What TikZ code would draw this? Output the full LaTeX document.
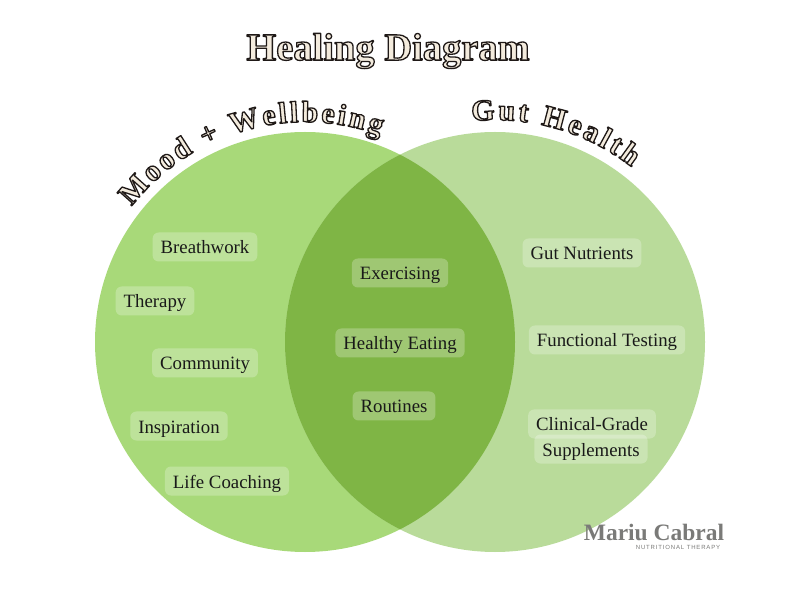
\documentclass[tikz,border=0pt]{standalone}
\usepackage{fontspec}
\usetikzlibrary{decorations.text}
\setmainfont{Liberation Serif}
\newfontfamily\logosans[LetterSpace=14]{Liberation Sans}
\definecolor{moodgreen}{HTML}{A8D979}
\definecolor{gutgreen}{HTML}{B9DB9A}
\definecolor{bothgreen}{HTML}{7FB545}
\definecolor{creamfill}{HTML}{F3EBDD}
\definecolor{logogray}{HTML}{7A7A78}
\newcommand{\outlineon}{\color{creamfill}\special{pdf:code 2 Tr 1.3 w 1 j .12 .1 .09 RG}}
\newcommand{\outlineoff}{\special{pdf:code 0 Tr}}
\tikzset{
 pill/.style={fill=white,fill opacity=.25,text opacity=1,rounded corners=6pt,font=\fontsize{18.8}{20}\selectfont,inner xsep=8pt,inner ysep=0pt,minimum height=29pt,text height=18pt,text depth=4pt,text=black!90},
 arctext/.style={decorate,decoration={text along path,text align={fit to path},text={|\fontsize{30}{30}\selectfont\bfseries\outlineon|#1}}}
}
\begin{document}
\begin{tikzpicture}[x=1pt,y=1pt]
 \useasboundingbox (0,0) rectangle (800,600);
 \fill[white] (0,0) rectangle (800,600);
 % the two circles and their overlap
 \fill[moodgreen] (305,258) circle (210);
 \fill[gutgreen] (495,258) circle (210);
 \begin{scope}
  \clip (305,258) circle (210);
  \fill[bothgreen] (495,258) circle (210);
 \end{scope}
 % heading
 \node[font=\fontsize{38.5}{40}\selectfont\bfseries] (title) at (388,549) {\outlineon Healing Diagram\outlineoff};
 % curved headings
 \path[shift={(305,258)},arctext={Mood + Wellbeing}] (142:220) arc[start angle=142,end angle=70,radius=220];
 \path[shift={(495,258)},arctext={Gut Health}] (96:222) arc[start angle=96,end angle=52,radius=222];
 % left side
 \node[pill] (breathwork) at (205,353) {Breathwork};
 \node[pill] (therapy) at (155,299) {Therapy};
 \node[pill] (community) at (205,237) {Community};
 \node[pill] (inspiration) at (179,174) {Inspiration};
 \node[pill] (coaching) at (227,119) {Life Coaching};
 % middle
 \node[pill] (exercising) at (400,327) {Exercising};
 \node[pill] (eating) at (400,257) {Healthy Eating};
 \node[pill] (routines) at (394,194) {Routines};
 % right side
 \node[pill] (nutrients) at (582,347) {Gut Nutrients};
 \node[pill] (testing) at (607,260) {Functional Testing};
 \node[pill] (clinical) at (592,176) {Clinical-Grade};
 \node[pill] (supplements) at (591,151) {Supplements};
 % logo
 \node[font=\fontsize{23.5}{24}\selectfont\bfseries,text=logogray,inner sep=0pt] (logo) at (654,68) {Mariu Cabral};
 \node[font=\logosans\fontsize{6}{6}\selectfont,text=logogray,inner sep=0pt] (logosub) at (678,53) {NUTRITIONAL THERAPY};
\end{tikzpicture}
\end{document}
